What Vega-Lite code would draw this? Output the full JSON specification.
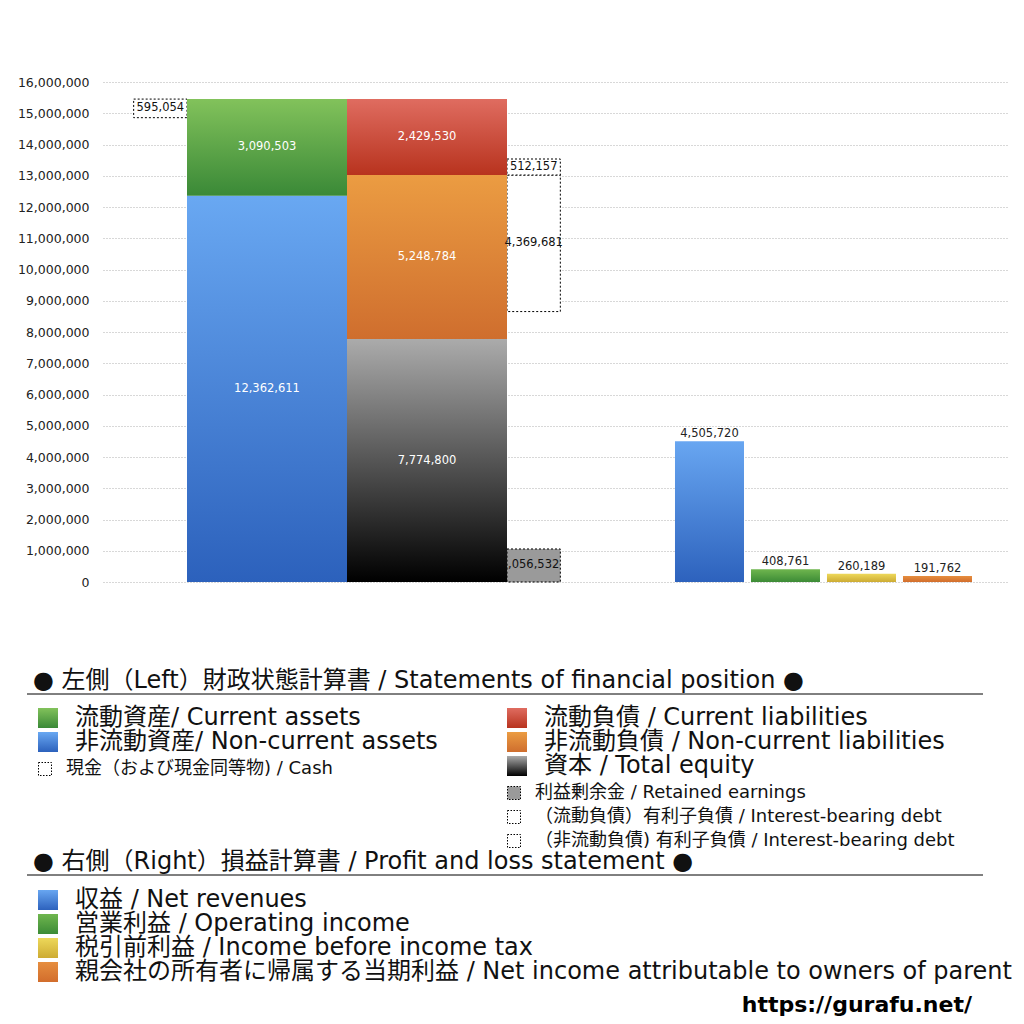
{
  "$schema": "https://vega.github.io/schema/vega-lite/v6.json",
  "width": 904,
  "height": 500,
  "autosize": {"type": "none"},
  "padding": {"left": 103, "top": 82, "right": 17, "bottom": 442},
  "background": "white",
  "config": {"view": {"stroke": null}, "font": "DejaVu Sans"},
  "resolve": {"scale": {"x": "independent", "y": "independent"}},
  "layer": [
    {
      "data": {"values": [
        {"key": "rev", "item": "収益 / Net revenues", "value": 4505720},
        {"key": "op", "item": "営業利益 / Operating income", "value": 408761},
        {"key": "pt", "item": "税引前利益 / Income before income tax", "value": 260189},
        {"key": "ni", "item": "親会社の所有者に帰属する当期利益 / Net income attributable to owners of parent", "value": 191762}
      ]},
      "encoding": {
        "x": {"field": "key", "type": "nominal", "sort": null, "scale": {"domain": ["s1", "s2", "s3", "s4", "s5", "s6", "s7", "rev", "op", "pt", "ni"], "range": [0, 904], "paddingInner": 0.092, "paddingOuter": 0.4935, "align": 0.5333}, "axis": null},
        "y": {"field": "value", "type": "quantitative", "scale": {"domain": [0, 16000000], "nice": false}, "title": null,
          "axis": {"title": null, "orient": "left", "values": [0, 1000000, 2000000, 3000000, 4000000, 5000000, 6000000, 7000000, 8000000, 9000000, 10000000, 11000000, 12000000, 13000000, 14000000, 15000000, 16000000], "format": ",.0f", "domain": false, "ticks": false, "labelPadding": 14, "labelFontSize": 12.5, "labelColor": "#222", "labelFont": "DejaVu Sans", "grid": true, "gridDash": [1, 2], "gridColor": "#b0b0b0", "gridWidth": 1}}
      },
      "layer": [
        {
          "mark": {"type": "bar"},
          "encoding": {
            "fill": {"condition": [
              {"test": "datum.key === 'rev'", "value": {"gradient": "linear", "x1": 0, "y1": 0, "x2": 0, "y2": 1, "stops": [{"offset": 0, "color": "#68a6f1"}, {"offset": 1, "color": "#2d62bd"}]}},
              {"test": "datum.key === 'op'", "value": {"gradient": "linear", "x1": 0, "y1": 0, "x2": 0, "y2": 1, "stops": [{"offset": 0, "color": "#6fb64e"}, {"offset": 1, "color": "#3c8b36"}]}},
              {"test": "datum.key === 'pt'", "value": {"gradient": "linear", "x1": 0, "y1": 0, "x2": 0, "y2": 1, "stops": [{"offset": 0, "color": "#edd85a"}, {"offset": 1, "color": "#cdab33"}]}}
            ], "value": {"gradient": "linear", "x1": 0, "y1": 0, "x2": 0, "y2": 1, "stops": [{"offset": 0, "color": "#e68e3f"}, {"offset": 1, "color": "#d26d2c"}]}}
          }
        },
        {
          "mark": {"type": "text", "dy": -7, "fontSize": 11.5, "baseline": "middle", "color": "#222"},
          "encoding": {"text": {"field": "value", "type": "quantitative", "format": ","}}
        }
      ]
    },
    {
      "data": {"values": [
        {"side": "assets", "seg": "gap", "value": 14858060, "order": 1},
        {"side": "assets", "seg": "cash", "value": 595054, "order": 2},
        {"side": "liab", "seg": "re", "value": 1056532, "order": 1},
        {"side": "liab", "seg": "gap", "value": 7597371, "order": 2},
        {"side": "liab", "seg": "nd", "value": 4369681, "order": 3},
        {"side": "liab", "seg": "cd", "value": 512157, "order": 4}
      ]},
      "layer": [
        {
          "transform": [{"filter": "datum.side === 'assets'"}],
          "mark": {"type": "bar", "width": {"band": 0.3333}, "xOffset": -106.67, "stroke": "black", "strokeWidth": 1, "strokeDash": [2, 2], "fill": "white"},
          "encoding": {
            "x": {"field": "side", "type": "nominal", "scale": {"domain": ["assets", "liab"], "range": [84, 404], "paddingInner": 0, "paddingOuter": 0}, "axis": null},
            "y": {"field": "value", "type": "quantitative", "stack": "zero", "scale": {"domain": [0, 16000000], "nice": false}, "title": null, "axis": null},
            "detail": {"field": "seg"},
            "order": {"field": "order", "type": "quantitative"},
            "opacity": {"condition": {"test": "datum.seg === 'gap'", "value": 0}, "value": 1}
          }
        },
        {
          "transform": [{"filter": "datum.side === 'liab'"}],
          "mark": {"type": "bar", "width": {"band": 0.3333}, "xOffset": 106.67, "stroke": "black", "strokeWidth": 1, "strokeDash": [2, 2]},
          "encoding": {
            "x": {"field": "side", "type": "nominal", "axis": null},
            "y": {"field": "value", "type": "quantitative", "stack": "zero", "title": null, "axis": null},
            "detail": {"field": "seg"},
            "order": {"field": "order", "type": "quantitative"},
            "fill": {"condition": {"test": "datum.seg === 're'", "value": "#9a9a9a"}, "value": "white"},
            "opacity": {"condition": {"test": "datum.seg === 'gap'", "value": 0}, "value": 1}
          }
        },
        {
          "transform": [{"filter": "datum.seg === 're'"}],
          "mark": {"type": "text", "xOffset": 103, "fontSize": 11.5, "color": "#111", "baseline": "middle"},
          "encoding": {
            "x": {"field": "side", "type": "nominal", "axis": null},
            "y": {"field": "value", "type": "quantitative", "stack": "zero", "bandPosition": 0.5, "title": null, "axis": null},
            "detail": {"field": "seg"},
            "order": {"field": "order", "type": "quantitative"},
            "text": {"field": "value", "type": "quantitative", "format": ","}
          }
        },
        {
          "data": {"values": [
            {"side": "assets", "key": "nca", "item": "非流動資産 / Non-current assets", "value": 12362611, "order": 1},
            {"side": "assets", "key": "ca", "item": "流動資産 / Current assets", "value": 3090503, "order": 2},
            {"side": "liab", "key": "eq", "item": "資本 / Total equity", "value": 7774800, "order": 1},
            {"side": "liab", "key": "ncl", "item": "非流動負債 / Non-current liabilities", "value": 5248784, "order": 2},
            {"side": "liab", "key": "cl", "item": "流動負債 / Current liabilities", "value": 2429530, "order": 3}
          ]},
          "layer": [
            {
              "mark": {"type": "bar"},
              "encoding": {
                "x": {"field": "side", "type": "nominal", "axis": null},
                "y": {"field": "value", "type": "quantitative", "stack": "zero", "title": null, "axis": null},
                "detail": {"field": "key"},
                "order": {"field": "order", "type": "quantitative"},
                "fill": {"condition": [
                  {"test": "datum.key === 'ca'", "value": {"gradient": "linear", "x1": 0, "y1": 0, "x2": 0, "y2": 1, "stops": [{"offset": 0, "color": "#82c25b"}, {"offset": 1, "color": "#3a8937"}]}},
                  {"test": "datum.key === 'nca'", "value": {"gradient": "linear", "x1": 0, "y1": 0, "x2": 0, "y2": 1, "stops": [{"offset": 0, "color": "#69a8f2"}, {"offset": 1, "color": "#2c61bc"}]}},
                  {"test": "datum.key === 'cl'", "value": {"gradient": "linear", "x1": 0, "y1": 0, "x2": 0, "y2": 1, "stops": [{"offset": 0, "color": "#df6c60"}, {"offset": 1, "color": "#b8331e"}]}},
                  {"test": "datum.key === 'ncl'", "value": {"gradient": "linear", "x1": 0, "y1": 0, "x2": 0, "y2": 1, "stops": [{"offset": 0, "color": "#eb9c42"}, {"offset": 1, "color": "#cf6e2e"}]}}
                ], "value": {"gradient": "linear", "x1": 0, "y1": 0, "x2": 0, "y2": 1, "stops": [{"offset": 0, "color": "#ababab"}, {"offset": 1, "color": "#000000"}]}}
              }
            },
            {
              "mark": {"type": "text", "fontSize": 11.5, "color": "white", "baseline": "middle"},
              "encoding": {
                "x": {"field": "side", "type": "nominal", "axis": null},
                "y": {"field": "value", "type": "quantitative", "stack": "zero", "bandPosition": 0.5, "title": null, "axis": null},
                "detail": {"field": "key"},
                "order": {"field": "order", "type": "quantitative"},
                "text": {"field": "value", "type": "quantitative", "format": ","}
              }
            }
          ]
        },
        {
          "transform": [{"filter": "datum.side === 'assets'"}],
          "mark": {"type": "text", "xOffset": -106.67, "fontSize": 11.5, "color": "#111", "baseline": "middle"},
          "encoding": {
            "x": {"field": "side", "type": "nominal", "axis": null},
            "y": {"field": "value", "type": "quantitative", "stack": "zero", "bandPosition": 0.5, "title": null, "axis": null},
            "detail": {"field": "seg"},
            "order": {"field": "order", "type": "quantitative"},
            "opacity": {"condition": {"test": "datum.seg === 'gap'", "value": 0}, "value": 1},
            "text": {"field": "value", "type": "quantitative", "format": ","}
          }
        },
        {
          "transform": [{"filter": "datum.side === 'liab'"}],
          "mark": {"type": "text", "xOffset": 106.67, "fontSize": 11.5, "color": "#111", "baseline": "middle"},
          "encoding": {
            "x": {"field": "side", "type": "nominal", "axis": null},
            "y": {"field": "value", "type": "quantitative", "stack": "zero", "bandPosition": 0.5, "title": null, "axis": null},
            "detail": {"field": "seg"},
            "order": {"field": "order", "type": "quantitative"},
            "opacity": {"condition": {"test": "datum.seg === 'gap' || datum.seg === 're'", "value": 0}, "value": 1},
            "text": {"field": "value", "type": "quantitative", "format": ","}
          }
        }
      ]
    },
    {
      "data": {"values": [
        {"col": "left", "idx": 1, "kind": "big", "key": "ca", "text": "流動資産/ Current assets"},
        {"col": "left", "idx": 2, "kind": "big", "key": "nca", "text": "非流動資産/ Non-current assets"},
        {"col": "left", "idx": 3, "kind": "small", "key": "cash", "text": "現金（および現金同等物) / Cash"},
        {"col": "right", "idx": 1, "kind": "big", "key": "cl", "text": "流動負債 /  Current liabilities"},
        {"col": "right", "idx": 2, "kind": "big", "key": "ncl", "text": "非流動負債 / Non-current liabilities"},
        {"col": "right", "idx": 3, "kind": "big", "key": "eq", "text": "資本 / Total equity"},
        {"col": "right", "idx": 4, "kind": "small", "key": "re", "text": "利益剰余金 / Retained earnings"},
        {"col": "right", "idx": 5, "kind": "small", "key": "cd", "text": "（流動負債）有利子負債 / Interest-bearing debt"},
        {"col": "right", "idx": 6, "kind": "small", "key": "nd", "text": "（非流動負債) 有利子負債 / Interest-bearing debt"}
      ]},
      "encoding": {
        "x": {"field": "col", "type": "nominal", "scale": {"type": "point", "domain": ["left", "right"], "range": [-55, 414], "padding": 0}, "axis": null},
        "y": {"field": "idx", "type": "quantitative", "scale": {"domain": [1, 2], "range": [636, 660], "nice": false, "zero": false}, "axis": null}
      },
      "layer": [
        {
          "transform": [{"filter": "datum.kind === 'big'"}],
          "mark": {"type": "square", "size": 400, "opacity": 1, "filled": true},
          "encoding": {
            "fill": {"condition": [
              {"test": "datum.key === 'ca'", "value": {"gradient": "linear", "x1": 0, "y1": 0, "x2": 0, "y2": 1, "stops": [{"offset": 0, "color": "#82c25b"}, {"offset": 1, "color": "#3a8937"}]}},
              {"test": "datum.key === 'nca'", "value": {"gradient": "linear", "x1": 0, "y1": 0, "x2": 0, "y2": 1, "stops": [{"offset": 0, "color": "#69a8f2"}, {"offset": 1, "color": "#2c61bc"}]}},
              {"test": "datum.key === 'cl'", "value": {"gradient": "linear", "x1": 0, "y1": 0, "x2": 0, "y2": 1, "stops": [{"offset": 0, "color": "#df6c60"}, {"offset": 1, "color": "#b8331e"}]}},
              {"test": "datum.key === 'ncl'", "value": {"gradient": "linear", "x1": 0, "y1": 0, "x2": 0, "y2": 1, "stops": [{"offset": 0, "color": "#eb9c42"}, {"offset": 1, "color": "#cf6e2e"}]}}
            ], "value": {"gradient": "linear", "x1": 0, "y1": 0, "x2": 0, "y2": 1, "stops": [{"offset": 0, "color": "#ababab"}, {"offset": 1, "color": "#000000"}]}}
          }
        },
        {
          "transform": [{"filter": "datum.kind === 'big'"}],
          "mark": {"type": "text", "align": "left", "baseline": "middle", "dx": 27, "fontSize": 24, "font": "DejaVu Sans, Noto Sans CJK JP", "color": "#111"},
          "encoding": {"text": {"field": "text"}}
        },
        {
          "transform": [{"filter": "datum.kind === 'small'"}],
          "mark": {"type": "square", "size": 169, "opacity": 1, "filled": true, "stroke": "black", "strokeWidth": 1, "strokeDash": [1.5, 1.5], "xOffset": -3, "yOffset": 3},
          "encoding": {"fill": {"condition": {"test": "datum.key === 're'", "value": "#9a9a9a"}, "value": "white"}}
        },
        {
          "transform": [{"filter": "datum.kind === 'small'"}],
          "mark": {"type": "text", "align": "left", "baseline": "middle", "dx": 18, "dy": 3, "fontSize": 18, "font": "DejaVu Sans, Noto Sans CJK JP", "color": "#111"},
          "encoding": {"text": {"field": "text"}}
        }
      ]
    },
    {
      "data": {"values": [
        {"sec": "bs", "col": "left", "text": "● 左側（Left）財政状態計算書 / Statements of financial position ●"},
        {"sec": "pl", "col": "left", "text": "● 右側（Right）損益計算書 / Profit and loss statement ●"}
      ]},
      "encoding": {
        "x": {"field": "col", "type": "nominal", "scale": {"type": "point", "domain": ["left", "right"], "range": [-55, 414], "padding": 0}, "axis": null},
        "y": {"field": "sec", "type": "nominal", "scale": {"type": "point", "domain": ["bs", "pl"], "range": [599, 780], "padding": 0}, "axis": null}
      },
      "layer": [
        {
          "mark": {"type": "text", "align": "left", "baseline": "middle", "dx": -15, "fontSize": 24, "font": "DejaVu Sans, Noto Sans CJK JP", "color": "#111"},
          "encoding": {"text": {"field": "text"}}
        },
        {
          "mark": {"type": "rule", "color": "black", "strokeWidth": 1, "xOffset": -21, "x2Offset": 466, "yOffset": 13},
          "encoding": {"x2": {"datum": "right"}}
        }
      ]
    },
    {
      "data": {"values": [
        {"col": "left", "idx": 1, "kind": "big", "key": "rev", "text": "収益 / Net revenues"},
        {"col": "left", "idx": 2, "kind": "big", "key": "op", "text": "営業利益 / Operating income"},
        {"col": "left", "idx": 3, "kind": "big", "key": "pt", "text": "税引前利益 / Income before income tax"},
        {"col": "left", "idx": 4, "kind": "big", "key": "ni", "text": "親会社の所有者に帰属する当期利益 / Net income attributable to owners of parent"},
        {"col": "right", "idx": 5, "kind": "url", "key": "url", "text": "https://gurafu.net/"}
      ]},
      "encoding": {
        "x": {"field": "col", "type": "nominal", "scale": {"type": "point", "domain": ["left", "right"], "range": [-55, 414], "padding": 0}, "axis": null},
        "y": {"field": "idx", "type": "quantitative", "scale": {"domain": [1, 2], "range": [818, 842], "nice": false, "zero": false}, "axis": null}
      },
      "layer": [
        {
          "transform": [{"filter": "datum.kind === 'big'"}],
          "mark": {"type": "square", "size": 400, "opacity": 1, "filled": true},
          "encoding": {
            "fill": {"condition": [
              {"test": "datum.key === 'rev'", "value": {"gradient": "linear", "x1": 0, "y1": 0, "x2": 0, "y2": 1, "stops": [{"offset": 0, "color": "#68a6f1"}, {"offset": 1, "color": "#2d62bd"}]}},
              {"test": "datum.key === 'op'", "value": {"gradient": "linear", "x1": 0, "y1": 0, "x2": 0, "y2": 1, "stops": [{"offset": 0, "color": "#6fb64e"}, {"offset": 1, "color": "#3c8b36"}]}},
              {"test": "datum.key === 'pt'", "value": {"gradient": "linear", "x1": 0, "y1": 0, "x2": 0, "y2": 1, "stops": [{"offset": 0, "color": "#edd85a"}, {"offset": 1, "color": "#cdab33"}]}}
            ], "value": {"gradient": "linear", "x1": 0, "y1": 0, "x2": 0, "y2": 1, "stops": [{"offset": 0, "color": "#e68e3f"}, {"offset": 1, "color": "#d26d2c"}]}}
          }
        },
        {
          "transform": [{"filter": "datum.kind === 'big'"}],
          "mark": {"type": "text", "align": "left", "baseline": "middle", "dx": 27, "fontSize": 24, "font": "DejaVu Sans, Noto Sans CJK JP", "color": "#111"},
          "encoding": {"text": {"field": "text"}}
        },
        {
          "transform": [{"filter": "datum.kind === 'url'"}],
          "mark": {"type": "text", "align": "right", "baseline": "middle", "dx": 455, "dy": 9, "fontSize": 22, "fontWeight": "bold", "font": "DejaVu Sans", "color": "#000"},
          "encoding": {"text": {"field": "text"}}
        }
      ]
    }
  ]
}
